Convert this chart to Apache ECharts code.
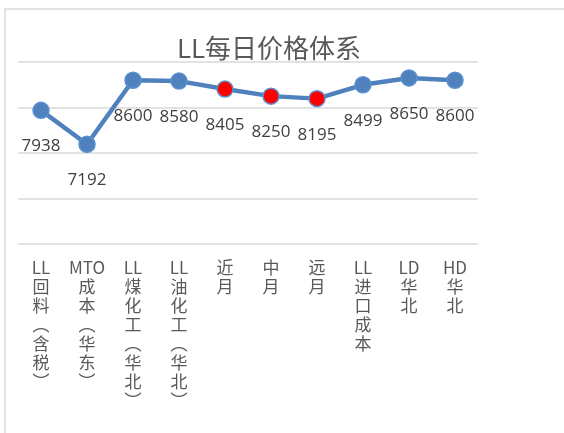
<!DOCTYPE html>
<html>
<head>
<meta charset="utf-8">
<script src="https://cdn.jsdelivr.net/npm/echarts@6/dist/echarts.min.js"></script>
<style>html,body{margin:0;padding:0;background:#fff}#c{width:564px;height:433px}</style>
</head>
<body>
<div id="c"></div>
<script>
const titleText = 'LL每日价格体系';
const categories = ['LL回料（含税）','MTO成本（华东）','LL煤化工（华北）','LL油化工（华北）','近月','中月','远月','LL进口成本','LD华北','HD华北'];
const values = [7938, 7192, 8600, 8580, 8405, 8250, 8195, 8499, 8650, 8600];
const highlighted = [false, false, false, false, true, true, true, false, false, false];
const yMin = 5000, yMax = 9000, yStep = 1000;

function vertical(s) {
  const tokens = s.replace(/（/g, '︵').replace(/）/g, '︶').match(/[A-Za-z]+|./g);
  return tokens.join('\n');
}

const chart = echarts.init(document.getElementById('c'), null, {renderer: 'canvas'});
chart.setOption({
  animation: false,
  backgroundColor: '#fff',
  title: {
    text: titleText, left: 264, top: 30, textAlign: 'center',
    textStyle: {fontFamily: 'Noto Sans CJK SC', fontSize: 26, fontWeight: 'normal', color: '#595959'}
  },
  graphic: [{
    type: 'rect', shape: {x: 5, y: 9, width: 600, height: 500},
    style: {fill: 'none', stroke: '#d9d9d9', lineWidth: 1.5}, silent: true
  }],
  grid: {left: 18, right: 86, top: 62, bottom: 189, containLabel: false},
  xAxis: {
    type: 'category', data: categories, boundaryGap: true,
    axisLine: {show: false}, axisTick: {show: false},
    axisLabel: {
      interval: 0, margin: 14, formatter: vertical, verticalAlign: 'top',
      fontFamily: 'Noto Sans CJK SC', fontSize: 17, lineHeight: 19, color: '#595959'
    }
  },
  yAxis: {
    type: 'value', min: yMin, max: yMax, interval: yStep,
    axisLabel: {show: false}, axisLine: {show: false}, axisTick: {show: false},
    splitLine: {lineStyle: {color: '#d9d9d9', width: 1.5}}
  },
  series: [{
    type: 'line', data: values.map((v, i) => ({
      value: v,
      itemStyle: highlighted[i] ? {color: '#ff0000', borderColor: '#5b8fd0', borderWidth: 1.5} : {color: '#4f81bd', borderColor: '#5b8fd0', borderWidth: 1.5}
    })),
    symbol: 'circle', symbolSize: 16,
    lineStyle: {color: '#4f81bd', width: 4.5},
    label: {
      show: true, position: 'bottom', distance: 19,
      fontFamily: 'Open Sans', fontSize: 17, color: '#404040'
    }
  }]
});
</script>
</body>
</html>
